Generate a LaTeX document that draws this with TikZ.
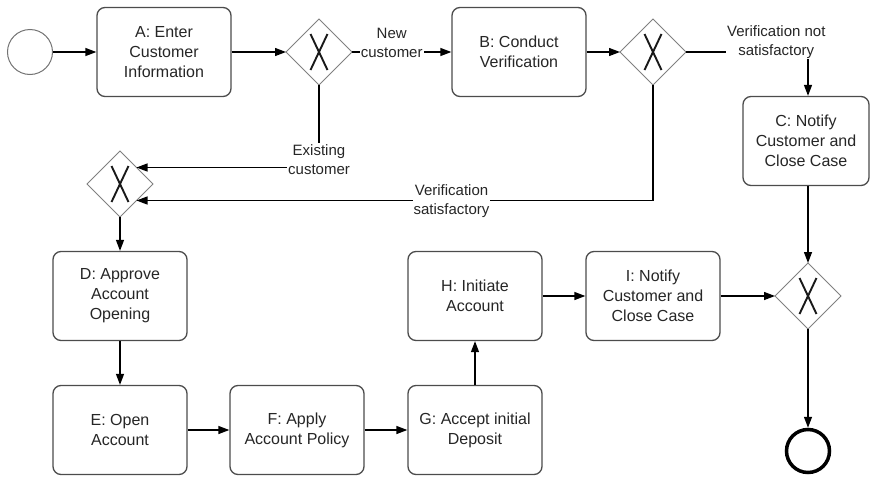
\documentclass[tikz,border=0pt]{standalone}
\usepackage{fontspec}
\setmainfont{Liberation Sans}
\usetikzlibrary{shapes.geometric,arrows.meta,positioning}

\begin{document}
\begin{tikzpicture}[->, >={Triangle[length=11pt,width=8pt]}, x=1pt, y=-1pt, line width=1.3pt]
\tikzstyle{task}=[draw=black!70, fill=white, rounded corners=8pt, minimum width=134pt, minimum height=89pt, align=center, font=\fontsize{16}{20}\selectfont, text=black!85, line width=1.3pt]
\tikzstyle{gate}=[diamond, draw=black!50, fill=white, minimum size=66pt, inner sep=0pt, outer sep=0pt, line width=1pt,
  path picture={\draw[-, line width=1.9pt, black!90] ([shift={(-8.5pt,-18pt)}]path picture bounding box.center) -- ([shift={(8.5pt,18pt)}]path picture bounding box.center)
    ([shift={(-8.5pt,18pt)}]path picture bounding box.center) -- ([shift={(8.5pt,-18pt)}]path picture bounding box.center);}]
\tikzstyle{lbl}=[fill=white, inner sep=1pt, align=center, font=\fontsize{15}{19}\selectfont, text=black!85]

\useasboundingbox (0,0) rectangle (871,477);

% top row
\node[circle, draw=black!55, line width=1pt, minimum size=45pt, inner sep=0pt] (start) at (30,52) {};
\node[task] (A) at (164,52) {A: Enter\\Customer\\Information};
\node[gate] (g1) at (319,52) {};
\node[task] (B) at (519,52) {B: Conduct\\Verification};
\node[gate] (g2) at (653,52) {};
\node[task, minimum width=126pt] (C) at (806,141) {C: Notify\\Customer and\\Close Case};

% merge and lower rows
\node[gate] (g3) at (120,184) {};
\node[task] (D) at (120,296) {D: Approve\\Account\\Opening};
\node[task] (E) at (120,430) {E: Open\\Account};
\node[task] (F) at (297,430) {F: Apply\\Account Policy};
\node[task] (G) at (475,430) {G: Accept initial\\Deposit};
\node[task] (H) at (475,296) {H: Initiate\\Account};
\node[task] (I) at (653,296) {I: Notify\\Customer and\\Close Case};
\node[gate] (g4) at (808,296) {};
\node[circle, draw=black, line width=3.5pt, minimum size=43pt, inner sep=0pt] (end) at (808,451) {};

\path
(start) edge (A)
(A) edge (g1)
(g1) edge node[lbl, pos=0.4, yshift=9.5pt] {New\\customer} (B)
(B) edge (g2)
(g3) edge (D)
(D) edge (E)
(E) edge (F)
(F) edge (G)
(G) edge (H)
(H) edge (I)
(I) edge (g4)
(g4) edge (end);

\draw (g2.east) -| node[lbl, pos=0.37, yshift=10pt] {Verification not\\satisfactory} (C.north -| g4.north);
\draw (C.south -| g4.north) -- (g4.north);
\draw (g1.south) |- node[lbl, pos=0.5, yshift=8pt] {Existing\\customer} (g3.north east);
\draw (g2.south) |- node[lbl, pos=0.695, yshift=-1pt] {Verification\\satisfactory} (g3.south east);

\end{tikzpicture}
\end{document}
